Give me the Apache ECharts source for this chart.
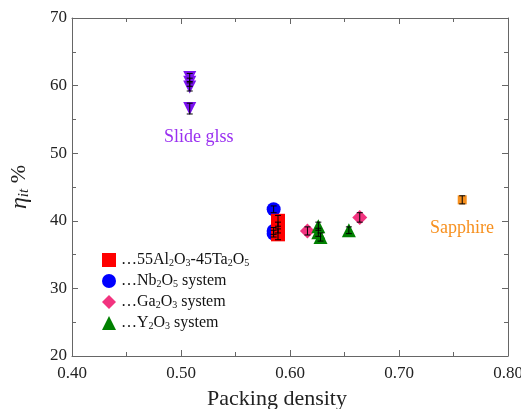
<!DOCTYPE html>
<html><head><meta charset="utf-8">
<script src="https://cdn.jsdelivr.net/npm/echarts@6/dist/echarts.min.js"></script>
<style>html,body{margin:0;padding:0;background:#fff}#c{width:521px;height:409px}</style>
</head><body><div id="c"></div>
<script>
// ---- data ----
const xTicks = [0.40, 0.50, 0.60, 0.70, 0.80];
const yTicks = [20, 30, 40, 50, 60, 70];

const slideX = [0.508, 0.508, 0.508, 0.508];
const slideY = [61.2, 60.5, 59.8, 56.6];
const slideErr = [0.6, 0.6, 0.6, 0.8];

const alTaX = [0.589, 0.589, 0.589];
const alTaY = [40.0, 39.0, 38.0];
const alTaErr = [0.8, 0.8, 0.8];

const nbX = [0.585, 0.585, 0.585];
const nbY = [41.7, 38.5, 38.1];
const nbErr = [0.5, 0.5, 0.5];

const gaX = [0.616, 0.664];
const gaY = [38.5, 40.5];
const gaErr = [0.6, 0.7];

const y2X = [0.626, 0.626, 0.628, 0.654];
const y2Y = [39.2, 38.3, 37.6, 38.6];
const y2Err = [0.6, 0.6, 0.6, 0.5];

const sapX = [0.758];
const sapY = [43.1];
const sapErr = [0.6];

const legendNames = ['…55Al2O3-45Ta2O5', '…Nb2O5 system', '…Ga2O3 system', '…Y2O3 system'];

// ---- chart ----
const FONT = 'Liberation Serif';
const zip = (xs, ys) => xs.map((x, i) => [x, ys[i]]);
const zipE = (xs, ys, es) => xs.map((x, i) => [x, ys[i], es[i]]);

function errSeries(xs, ys, es) {
  return {
    type: 'custom', z: 5, silent: true,
    data: zipE(xs, ys, es),
    renderItem: function (params, api) {
      const x = api.value(0), y = api.value(1), e = api.value(2);
      const t = api.coord([x, y + e]);
      const b = api.coord([x, y - e]);
      const w = 3;
      const st = { stroke: '#000', lineWidth: 1 };
      return { type: 'group', children: [
        { type: 'line', shape: { x1: t[0], y1: t[1], x2: b[0], y2: b[1] }, style: st },
        { type: 'line', shape: { x1: t[0] - w, y1: t[1], x2: t[0] + w, y2: t[1] }, style: st },
        { type: 'line', shape: { x1: b[0] - w, y1: b[1], x2: b[0] + w, y2: b[1] }, style: st }
      ]};
    }
  };
}

function subFmt(name) {
  return name.replace(/([A-Za-z])(\d)/g, '$1{s|$2}');
}

const axisCommon = {
  type: 'value',
  axisLine: { show: true, lineStyle: { color: '#666', width: 1 } },
  axisTick: { show: true, inside: true, length: 6, lineStyle: { color: '#666' } },
  minorTick: { show: true, splitNumber: 2, length: 4, lineStyle: { color: '#666' } },
  splitLine: { show: false },
  minorSplitLine: { show: false }
};

const chart = echarts.init(document.getElementById('c'));
chart.setOption({
  animation: false,
  grid: { left: 72, right: 13, top: 18, bottom: 53, containLabel: false, outerBoundsMode: 'none' },
  xAxis: [
    Object.assign({}, axisCommon, {
      min: xTicks[0], max: xTicks[xTicks.length - 1], interval: 0.1, position: 'bottom',
      name: 'Packing density', nameLocation: 'middle', nameGap: 32,
      nameTextStyle: { fontFamily: FONT, fontSize: 22, color: '#222', padding: [0, 26, 0, 0] },
      axisLabel: { fontFamily: FONT, fontSize: 17, color: '#222', margin: 9,
        formatter: v => v.toFixed(2) }
    }),
    Object.assign({}, axisCommon, {
      min: xTicks[0], max: xTicks[xTicks.length - 1], interval: 0.1, position: 'top',
      axisLabel: { show: false }
    })
  ],
  yAxis: [
    Object.assign({}, axisCommon, {
      min: yTicks[0], max: yTicks[yTicks.length - 1], interval: 10, position: 'left',
      name: '{i|η}{s|it} %', nameLocation: 'middle', nameGap: 40, nameRotate: 90,
      nameTextStyle: { fontFamily: FONT, fontSize: 22, color: '#222',
        rich: {
          i: { fontFamily: FONT, fontSize: 24, fontStyle: 'italic', color: '#222' },
          s: { fontFamily: FONT, fontSize: 15, fontStyle: 'italic', color: '#222', padding: [10, 0, 0, 0] }
        } },
      axisLabel: { fontFamily: FONT, fontSize: 17, color: '#222', margin: 5 }
    }),
    Object.assign({}, axisCommon, {
      min: yTicks[0], max: yTicks[yTicks.length - 1], interval: 10, position: 'right',
      axisLabel: { show: false }
    })
  ],
  legend: {
    data: legendNames.map(n => ({ name: n })),
    orient: 'vertical', left: 97, top: 246, padding: 5,
    itemWidth: 14, itemHeight: 14, itemGap: 3,
    formatter: subFmt,
    textStyle: { fontFamily: FONT, fontSize: 16, color: '#111', lineHeight: 18,
      rich: { s: { fontFamily: FONT, fontSize: 10, color: '#111', lineHeight: 18, padding: [7, 0, 0, 0] } } }
  },
  graphic: [
    { type: 'text', left: 164, top: 128, style: { text: 'Slide glss', fontFamily: FONT, fontSize: 18, fill: '#9a30f0' } },
    { type: 'text', left: 430, top: 219, style: { text: 'Sapphire', fontFamily: FONT, fontSize: 18, fill: '#f7901e' } }
  ],
  series: [
    { name: legendNames[0], type: 'scatter', symbol: 'rect', symbolSize: 14, z: 3,
      itemStyle: { color: '#ff0000', opacity: 1 }, data: zip(alTaX, alTaY) },
    { name: legendNames[1], type: 'scatter', symbol: 'circle', symbolSize: 14, z: 2,
      itemStyle: { color: '#0000ff', opacity: 1 }, data: zip(nbX, nbY) },
    { name: legendNames[2], type: 'scatter', symbol: 'diamond', symbolSize: 15, z: 3,
      itemStyle: { color: '#f2337f', opacity: 1 }, data: zip(gaX, gaY) },
    { name: legendNames[3], type: 'scatter', symbol: 'triangle', symbolSize: 14, z: 3,
      itemStyle: { color: '#008000', opacity: 1 }, data: zip(y2X, y2Y) },
    { name: 'Slide glass', type: 'scatter', symbol: 'triangle', symbolRotate: 180, symbolSize: 13, z: 3,
      itemStyle: { color: '#7b12f0', opacity: 1 }, data: zip(slideX, slideY) },
    { name: 'Sapphire', type: 'scatter', symbol: 'rect', symbolSize: 9, z: 3,
      itemStyle: { color: '#f7901e', opacity: 1 }, data: zip(sapX, sapY) },
    errSeries(slideX, slideY, slideErr),
    errSeries(alTaX, alTaY, alTaErr),
    errSeries(nbX, nbY, nbErr),
    errSeries(gaX, gaY, gaErr),
    errSeries(y2X, y2Y, y2Err),
    errSeries(sapX, sapY, sapErr)
  ]
});
</script></body></html>
